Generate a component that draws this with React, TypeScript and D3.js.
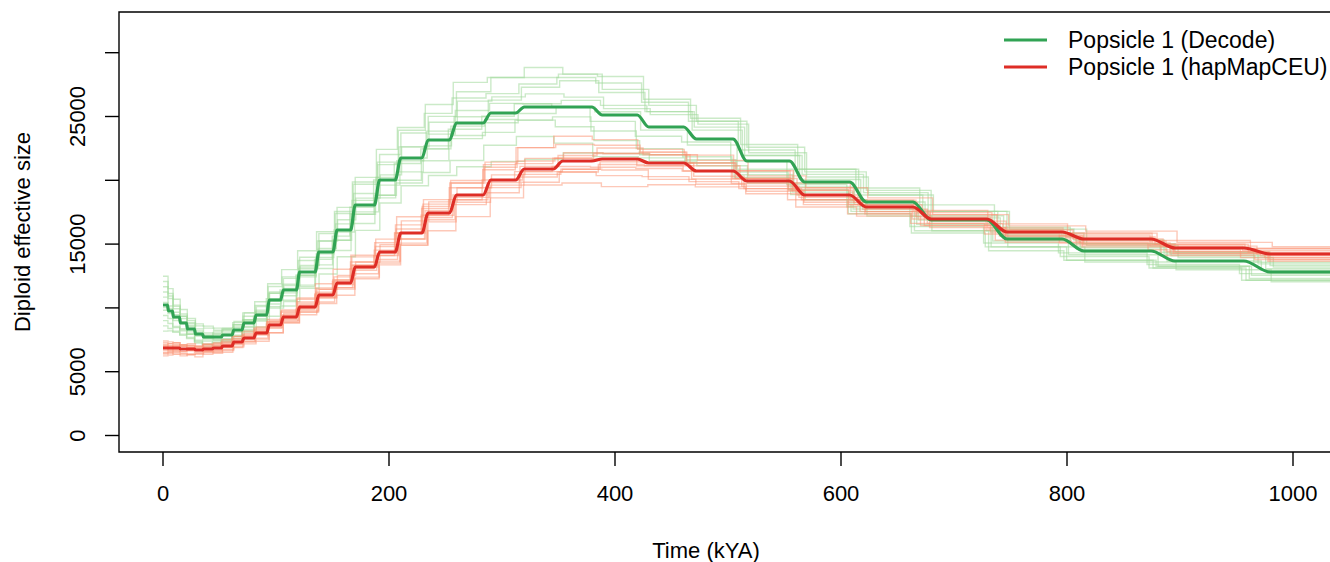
import React from 'react';
import * as d3 from 'd3';

// ---------- data ----------
// epoch start times (kYA), shared by both inferences
const epochStarts = [0, 4.4, 8.8, 15, 21.2, 28.3, 35.4, 44.2, 52.2, 61.9, 70.8, 81.4, 92.9, 105.3, 119.5, 136.3, 152.2, 168.1, 189.4, 208, 231.9, 256.6, 286.7, 315.9, 349.6, 384.1, 424.8, 466.4, 510.6, 561.1, 615, 671.7, 738, 805.3, 885, 968.1];
const timeEnd = 1060;

// mean diploid Ne per epoch
const decodeNe = [10227, 9757, 9287, 8817, 8346, 7955, 7719, 7719, 7876, 8268, 8817, 9444, 10619, 11403, 12813, 14381, 16105, 18064, 20024, 21748, 23158, 24490, 25274, 25745, 25745, 25118, 24177, 23237, 21513, 19867, 18299, 16889, 15400, 14459, 13676, 12813];
const hapmapNe = [6857, 6857, 6857, 6779, 6779, 6701, 6779, 6857, 7014, 7327, 7641, 8033, 8660, 9287, 10071, 11011, 11951, 13205, 14381, 15870, 17437, 18848, 20024, 20886, 21512, 21669, 21356, 20729, 19945, 18848, 17907, 16967, 15948, 15400, 14694, 14224];

// replicate runs: time-scale factor and per-epoch deviation (%) from the mean
const decodeRepScale = [1.012, 0.990, 1.004, 0.995, 1.015, 0.986, 1.008, 0.993, 1.001, 0.984, 1.013, 0.997];
const decodeRepDev = [
  [18, 14, 10, 8, 6, 5, 4, 6, 5, 3, 2, 4, 6, 8, 9, 10, 11, 12, 10, 9, 8, 10, 11, 12, 10, 8, 7, 6, 5, 4, 5, 4, 3, 4, 5, 4],
  [-12, -10, -8, -6, -5, -6, -4, -3, -5, -6, -4, -3, -5, -7, -8, -9, -10, -8, -7, -9, -11, -12, -10, -9, -11, -13, -10, -8, -6, -5, -4, -5, -6, -5, -4, -5],
  [6, 4, 2, 0, -2, -1, 1, 3, 2, 0, 1, 3, 5, 4, 2, 1, 3, 5, 6, 4, 3, 2, 4, 6, 8, 7, 5, 3, 2, 1, 0, 1, 2, 1, 0, 1],
  [-4, -2, -1, 1, 2, 0, -2, -1, 0, 2, 3, 1, -1, -2, -3, -1, 0, 2, 1, -1, -2, -4, -3, -2, 0, 1, -1, -2, -3, -2, -1, 0, -1, -2, -3, -2],
  [22, 18, 15, 12, 10, 8, 9, 7, 6, 8, 9, 7, 5, 3, 4, 6, 5, 3, 2, 4, 6, 7, 5, 4, 3, 2, 4, 5, 3, 2, 3, 4, 5, 3, 2, 3],
  [-8, -6, -9, -7, -5, -8, -10, -9, -7, -6, -8, -10, -12, -11, -9, -7, -5, -4, -6, -8, -7, -5, -6, -4, -3, -5, -7, -6, -4, -3, -5, -6, -4, -3, -4, -5],
  [10, 12, 9, 6, 8, 10, 11, 9, 7, 5, 3, 2, 0, 1, 3, 2, -1, -3, -2, 0, 2, 4, 3, 1, 2, 3, 5, 4, 2, 3, 4, 2, 1, 2, 3, 2],
  [-16, -14, -12, -10, -8, -9, -7, -5, -6, -8, -7, -5, -3, -4, -2, -3, -5, -4, -6, -5, -3, -1, -2, -4, -6, -8, -9, -7, -5, -4, -3, -2, -4, -5, -3, -4],
  [2, 0, -3, -5, -4, -2, 0, 2, 4, 5, 6, 8, 10, 9, 7, 6, 8, 9, 7, 10, 12, 13, 11, 9, 10, 12, 9, 7, 6, 5, 3, 4, 5, 6, 4, 5],
  [-20, -16, -13, -11, -9, -7, -8, -6, -4, -2, -3, -1, 1, 0, -2, -4, -3, -1, 0, -2, -3, -2, -1, 1, 0, -2, -3, -1, 0, -1, -2, -3, -2, -1, -2, -1],
  [14, 10, 7, 4, 3, 1, -1, -3, -4, -5, -6, -4, -6, -8, -10, -12, -13, -11, -9, -10, -12, -14, -15, -16, -14, -12, -11, -9, -8, -7, -6, -5, -4, -6, -5, -6],
  [-2, 2, 4, 6, 5, 3, 2, 4, 6, 7, 9, 11, 12, 14, 13, 11, 9, 10, 12, 11, 9, 8, 6, 7, 9, 10, 8, 6, 4, 5, 6, 7, 6, 4, 5, 6],
];
const hapmapRepScale = [0.994, 1.010, 0.987, 1.003, 1.014, 0.998, 0.989, 1.007, 0.992, 1.011, 1.000, 0.985];
const hapmapRepDev = [
  [6, 5, 4, 3, 4, 5, 3, 2, 1, 2, 3, 4, 5, 6, 7, 5, 4, 6, 7, 8, 6, 5, 7, 8, 6, 5, 4, 3, 4, 3, 2, 3, 4, 3, 4, 3],
  [-6, -5, -7, -8, -6, -5, -4, -6, -5, -3, -4, -6, -7, -5, -4, -6, -8, -7, -5, -6, -8, -9, -7, -6, -8, -10, -8, -6, -5, -4, -3, -4, -5, -4, -3, -4],
  [2, 3, 1, 0, -1, 0, 2, 1, 3, 4, 2, 1, 0, -2, -1, 1, 2, 3, 1, 0, 2, 3, 4, 2, 1, 0, -1, 0, 1, 2, 1, 0, 1, 2, 1, 2],
  [-3, -2, -4, -3, -1, 0, -2, -3, -1, 0, 1, -1, -2, -3, -4, -2, -1, 0, -2, -3, -1, -2, -3, -5, -4, -2, -1, -3, -2, -1, -2, -3, -2, -1, -2, -1],
  [8, 7, 6, 5, 6, 4, 5, 6, 4, 3, 5, 6, 4, 3, 2, 4, 5, 3, 4, 6, 5, 3, 2, 4, 3, 2, 3, 4, 2, 3, 4, 2, 3, 4, 3, 4],
  [-9, -8, -7, -6, -7, -8, -6, -5, -7, -6, -4, -5, -3, -4, -6, -5, -3, -2, -4, -3, -2, -4, -5, -3, -4, -6, -5, -4, -3, -5, -4, -3, -4, -3, -4, -3],
  [4, 2, 3, 5, 4, 2, 1, 3, 5, 6, 7, 5, 3, 4, 6, 8, 9, 7, 5, 4, 3, 5, 6, 8, 9, 7, 5, 6, 4, 5, 3, 4, 2, 3, 2, 3],
  [-1, -3, -2, 0, 1, -1, -3, -4, -2, -1, -3, -2, 0, 2, 1, -1, -3, -4, -6, -5, -3, -1, 0, -2, -3, -1, 0, -2, -3, -2, -1, -2, -3, -2, -3, -2],
  [3, 5, 6, 4, 2, 3, 5, 4, 2, 0, -1, 1, 3, 5, 4, 2, 0, 1, 3, 2, 4, 6, 5, 3, 1, 2, 4, 3, 1, 2, 3, 1, 0, 1, 2, 1],
  [-5, -4, -3, -5, -6, -4, -3, -2, -4, -5, -6, -8, -7, -5, -3, -2, -4, -6, -7, -6, -4, -3, -2, -1, -3, -4, -6, -5, -4, -3, -2, -1, -2, -3, -2, -3],
  [1, 0, 2, 3, 2, 4, 6, 5, 7, 6, 4, 3, 2, 1, 3, 4, 2, 1, -1, 0, 1, 0, -1, 1, 2, 4, 3, 2, 1, 0, 1, 2, 1, 0, 1, 0],
  [-7, -6, -5, -3, -2, -3, -1, 0, -1, -2, 0, 2, 1, -1, -2, 0, 1, -1, -2, 0, -1, -2, 0, -1, -2, -3, -2, 0, -1, -2, -3, -2, -1, -2, -1, -2],
];

const xTicks = [0, 200, 400, 600, 800, 1000];
const yTicks = [0, 5000, 10000, 15000, 20000, 25000, 30000];
const yTickLabels = [0, 5000, 15000, 25000];
const seriesNames = ['Popsicle 1 (Decode)', 'Popsicle 1 (hapMapCEU)'];

// ---------- styling ----------
const W = 1330;
const H = 562;
const FONT = '"Liberation Sans", Arial, Helvetica, sans-serif';
const MAIN_GREEN = '#31a354';
const MAIN_RED = '#de2d26';
const REP_GREEN = '#a1d99b';
const REP_RED = '#fc9272';
const plot = { left: 119, top: 12, bottom: 452, right: 1340 };
const FS = 22;

type P = [number, number];

export default function App() {
  const x = d3.scaleLinear().domain([0, 1000]).range([163, 1293]);
  const y = d3.scaleLinear().domain([0, 30000]).range([435.5, 52.7]);

  const stepLine = d3.line<P>().x(d => x(d[0])).y(d => y(d[1])).curve(d3.curveStepAfter);
  const smoothLine = d3.line<P>().x(d => x(d[0])).y(d => y(d[1])).curve(d3.curveMonotoneX);

  const repPath = (vals: number[], scale: number, dev: number[]) => {
    const pts: P[] = epochStarts.map((s, i) => [s * scale, vals[i] * (1 + dev[i] / 100)]);
    pts.push([timeEnd * scale, vals[vals.length - 1] * (1 + dev[dev.length - 1] / 100)]);
    return stepLine(pts) || '';
  };

  const meanPath = (vals: number[]) => {
    const pts: P[] = [[0, vals[0]]];
    for (let i = 1; i < epochStarts.length; i++) {
      const b = epochStarts[i];
      const d = Math.max(0.5, 0.012 * b);
      pts.push([b - d, vals[i - 1]]);
      pts.push([b + d, vals[i]]);
    }
    pts.push([timeEnd, vals[vals.length - 1]]);
    return smoothLine(pts) || '';
  };

  return (
    <svg width={W} height={H} style={{ position: 'absolute', left: 0, top: 0, background: '#fff' }} fontFamily={FONT}>
      <defs>
        <clipPath id="plotclip">
          <rect x={plot.left} y={plot.top} width={plot.right - plot.left} height={plot.bottom - plot.top} />
        </clipPath>
      </defs>
      <rect x={0} y={0} width={W} height={H} fill="#fff" />

      <g clipPath="url(#plotclip)" fill="none">
        {decodeRepDev.map((dev, i) => (
          <path key={'g' + i} d={repPath(decodeNe, decodeRepScale[i], dev)} stroke={REP_GREEN} strokeOpacity={0.55} strokeWidth={1.4} />
        ))}
        {hapmapRepDev.map((dev, i) => (
          <path key={'r' + i} d={repPath(hapmapNe, hapmapRepScale[i], dev)} stroke={REP_RED} strokeOpacity={0.5} strokeWidth={1.4} />
        ))}
        <path d={meanPath(decodeNe)} stroke={MAIN_GREEN} strokeWidth={3.2} strokeLinejoin="round" />
        <path d={meanPath(hapmapNe)} stroke={MAIN_RED} strokeWidth={3.2} strokeLinejoin="round" />
      </g>

      {/* box */}
      <path d={`M${W},${plot.top}H${plot.left}V${plot.bottom}H${W}`} fill="none" stroke="#000" strokeWidth={1.4} />

      {/* x axis ticks */}
      {xTicks.map(t => (
        <g key={'xt' + t}>
          <line x1={x(t)} x2={x(t)} y1={plot.bottom} y2={plot.bottom + 14} stroke="#000" strokeWidth={1.4} />
          <text x={x(t)} y={493} textAnchor="middle" dominantBaseline="central" fontSize={FS} fill="#000">{t}</text>
        </g>
      ))}
      {/* y axis ticks */}
      {yTicks.map(t => (
        <line key={'yt' + t} x1={plot.left - 14} x2={plot.left} y1={y(t)} y2={y(t)} stroke="#000" strokeWidth={1.4} />
      ))}
      {yTickLabels.map(t => (
        <text key={'yl' + t} transform={`translate(77,${y(t)}) rotate(-90)`} textAnchor="middle" dominantBaseline="central" fontSize={FS} fill="#000">{t}</text>
      ))}

      <text x={706} y={550} textAnchor="middle" dominantBaseline="central" fontSize={FS} fill="#000">Time (kYA)</text>
      <text transform={`translate(22,${(plot.top + plot.bottom) / 2}) rotate(-90)`} textAnchor="middle" dominantBaseline="central" fontSize={FS} fill="#000">Diploid effective size</text>

      {/* legend */}
      {seriesNames.map((name, i) => (
        <g key={name}>
          <line x1={1004} x2={1047} y1={40 + i * 27} y2={40 + i * 27} stroke={i === 0 ? MAIN_GREEN : MAIN_RED} strokeWidth={3.2} />
          <text x={1068} y={40 + i * 27} dominantBaseline="central" fontSize={23} fill="#000">{name}</text>
        </g>
      ))}
    </svg>
  );
}
